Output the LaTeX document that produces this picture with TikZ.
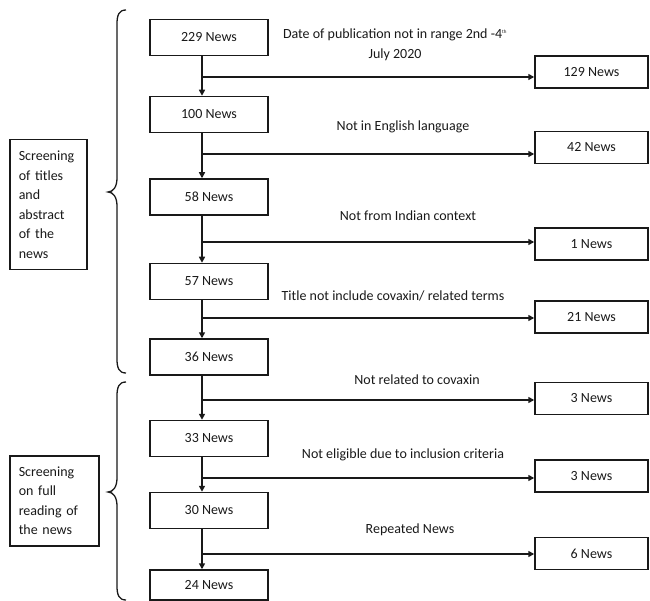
\documentclass[tikz,border=0pt]{standalone}
\usepackage{fontspec}
\setmainfont{Carlito}
\usetikzlibrary{arrows.meta,calc}
\definecolor{ink}{RGB}{25,25,25}
\begin{document}
\begin{tikzpicture}[x=1pt,y=-1pt,
  font=\fontsize{14}{19.5}\selectfont,
  every node/.style={text=ink},
  lbox/.style={draw=ink,line width=1.5pt,minimum width=118pt,minimum height=36pt,inner sep=0pt},
  rbox/.style={draw=ink,line width=1.5pt,minimum width=113pt,minimum height=32pt,inner sep=0pt},
  sidebox/.style={draw=ink,line width=1.5pt,align=left,inner xsep=9pt,inner ysep=0pt,anchor=north west},
  reason/.style={align=center,inner sep=0pt},
  flow/.style={draw=ink,line width=1.5pt,-{Triangle[length=6pt,width=6pt]}},
  bracepath/.style={draw=ink,line width=1.3pt}]
\useasboundingbox (0,0) rectangle (650,601);

% main column
\node[lbox] (n229) at (209,37.5) {229 News};
\node[lbox] (n100) at (209,114.5) {100 News};
\node[lbox] (n58) at (209,197) {58 News};
\node[lbox] (n57) at (209,281.5) {57 News};
\node[lbox] (n36) at (209,357) {36 News};
\node[lbox] (n33) at (209,438.5) {33 News};
\node[lbox] (n30) at (209,510.5) {30 News};
\node[lbox,minimum height=30pt] (n24) at (209,585) {24 News};

% excluded boxes
\node[rbox] (r129) at (591.5,72) {129 News};
\node[rbox] (r42) at (591.5,147.5) {42 News};
\node[rbox] (r1) at (591.5,244) {1 News};
\node[rbox] (r21) at (591.5,317) {21 News};
\node[rbox] (r3a) at (591.5,398.5) {3 News};
\node[rbox] (r3b) at (591.5,476) {3 News};
\node[rbox] (r6) at (591.5,553.5) {6 News};

% reasons
\node[reason] (t1) at (395,45) {Date of publication not in range 2nd -4\textsuperscript{\tiny th}\\July 2020};
\node[reason] (t2) at (403,127) {Not in English language};
\node[reason] (t3) at (408,216) {Not from Indian context};
\node[reason] (t4) at (393,296) {Title not include covaxin/ related terms};
\node[reason] (t5) at (417,380) {Not related to covaxin};
\node[reason] (t6) at (403,455) {Not eligible due to inclusion criteria};
\node[reason] (t7) at (410,530) {Repeated News};

% side labels
\node[sidebox,text width=59pt,minimum height=130pt] (s1) at (9,139) {Screening\\of titles\\and\\abstract\\of the\\news};
\node[sidebox,text width=71pt,minimum height=90pt] (s2) at (9,455) {Screening\\on full\\reading of\\the news};

% vertical line position and branch points
\coordinate (v) at (202,0);
\coordinate (b1) at (202,77);
\coordinate (b2) at (202,154);
\coordinate (b3) at (202,242);
\coordinate (b4) at (202,318);
\coordinate (b5) at (202,400);
\coordinate (b6) at (202,478);
\coordinate (b7) at (202,554);

\foreach \a/\b in {n229/n100,n100/n58,n58/n57,n57/n36,n36/n33,n33/n30,n30/n24}
  \draw[flow] (\a.south -| v) -- (\b.north -| v);

\draw[flow] (b1) -- (b1 -| r129.west);
\draw[flow] (b2) -- (b2 -| r42.west);
\draw[flow] (b3) -- (b3 -| r1.west);
\draw[flow] (b4) -- (b4 -| r21.west);
\draw[flow] (b5) -- (b5 -| r3a.west);
\draw[flow] (b6) -- (b6 -| r3b.west);
\draw[flow] (b7) -- (b7 -| r6.west);

% braces
\draw[bracepath] (126,10) .. controls (119,10) and (117,15) .. (117,24) -- (117,178)
  .. controls (117,187) and (113,192) .. (108,192)
  .. controls (113,192) and (117,197) .. (117,206) -- (117,359)
  .. controls (117,368) and (119,373) .. (126,373);
\draw[bracepath] (126,382) .. controls (119,382) and (117,387) .. (117,396) -- (117,478)
  .. controls (117,487) and (113,492) .. (108,492)
  .. controls (113,492) and (117,497) .. (117,506) -- (117,586)
  .. controls (117,595) and (119,600) .. (126,600);
\end{tikzpicture}
\end{document}
